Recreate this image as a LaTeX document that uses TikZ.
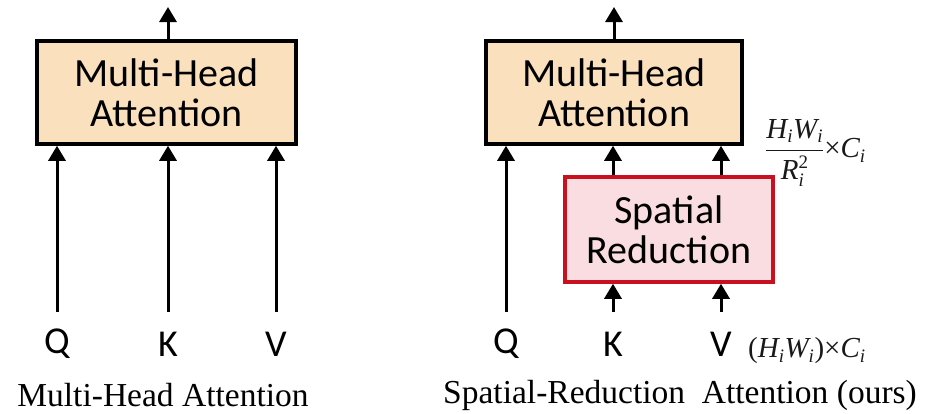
\documentclass[tikz,border=0pt]{standalone}
\usepackage{fix-cm}
\usepackage{amsmath}
\usepackage{fontspec}
\setmainfont{Carlito}
\newfontfamily\capfont{Liberation Serif}
\newfontfamily\dimfont{Liberation Serif}
\usetikzlibrary{arrows.meta}

% letters of the size labels: italic serif, with small sub/superscripts
\newcommand\dimv[1]{\hbox{\dimfont\itshape #1}}
\newcommand\dimu[1]{\hbox{\dimfont #1}}
\newcommand\dims[1]{\hbox{\dimfont\fontsize{19}{19}\selectfont\itshape #1}}
\newcommand\dimn[1]{\hbox{\dimfont\fontsize{19}{19}\selectfont #1}}

\definecolor{mhafill}{RGB}{251,224,190}
\definecolor{srfill}{RGB}{249,221,224}
\definecolor{srdraw}{RGB}{200,16,30}

\tikzset{
  blockbox/.style={draw=black, line width=3.5pt, fill=mhafill, inner sep=0pt,
    align=center, font=\fontsize{40}{40}\selectfont},
  redbox/.style={blockbox, draw=srdraw, fill=srfill},
  inlabel/.style={font=\fontsize{38}{40}\selectfont, inner sep=0pt},
  caplabel/.style={font=\capfont\fontsize{33.5}{36}\selectfont, inner sep=0pt},
  dimlabel/.style={font=\fontsize{29}{32}\selectfont, inner sep=0pt, anchor=west, text=black!90},
  flow/.style={line width=3pt, -{Triangle[width=17pt,length=15pt]}},
}

\begin{document}
\begin{tikzpicture}[x=1pt,y=-1pt]
\useasboundingbox (0,0) rectangle (934,413);

% ---- plain multi-head attention ----
\node[blockbox, minimum width=259pt, minimum height=103pt] (mha1) at (166.5,92.5) {Multi-Head\\Attention};
\coordinate (out1) at (168,7);
\draw[flow] (mha1.north -| out1) -- (out1);

\node[inlabel] (q1) at (57,344) {Q};
\node[inlabel] (k1) at (168,344) {K};
\node[inlabel] (v1) at (276,344) {V};
\coordinate (q1top) at (57,312);
\coordinate (k1top) at (168,312);
\coordinate (v1top) at (276,312);
\draw[flow] (q1top) -- (q1top |- mha1.south);
\draw[flow] (k1top) -- (k1top |- mha1.south);
\draw[flow] (v1top) -- (v1top |- mha1.south);
\node[caplabel] (cap1) at (163,395) {Multi-Head Attention};

% ---- spatial-reduction attention ----
\node[blockbox, minimum width=256pt, minimum height=103pt] (mha2) at (614,92.5) {Multi-Head\\Attention};
\coordinate (out2) at (614,7);
\draw[flow] (mha2.north -| out2) -- (out2);

\node[redbox, minimum width=208pt, minimum height=105pt] (sr) at (669,229.5) {Spatial\\Reduction};

\node[inlabel] (q2) at (506,344) {Q};
\node[inlabel] (k2) at (613,344) {K};
\node[inlabel] (v2) at (721,344) {V};
\coordinate (q2top) at (506,312);
\coordinate (k2top) at (613,312);
\coordinate (v2top) at (721,312);
\draw[flow] (q2top) -- (q2top |- mha2.south);
\draw[flow] (k2top) -- (k2top |- sr.south);
\draw[flow] (v2top) -- (v2top |- sr.south);
\draw[flow] (k2top |- sr.north) -- (k2top |- mha2.south);
\draw[flow] (v2top |- sr.north) -- (v2top |- mha2.south);

\node[dimlabel] (dimout) at (765,153)
  {$\genfrac{}{}{1.6pt}{0}{\dimv{H}_{\dims{i}}\dimv{W}_{\dims{i}}}{\dimv{R}_{\dims{i}}^{\dimn{2}}}\dimu{×}\dimv{C}_{\dims{i}}$};
\node[dimlabel] (dimin) at (748,351)
  {$\dimu{(}\dimv{H}_{\dims{i}}\dimv{W}_{\dims{i}}\dimu{)}\dimu{×}\dimv{C}_{\dims{i}}$};

\node[caplabel] (cap2) at (680,395) {Spatial-Reduction\ \ Attention (ours)};
\end{tikzpicture}
\end{document}
